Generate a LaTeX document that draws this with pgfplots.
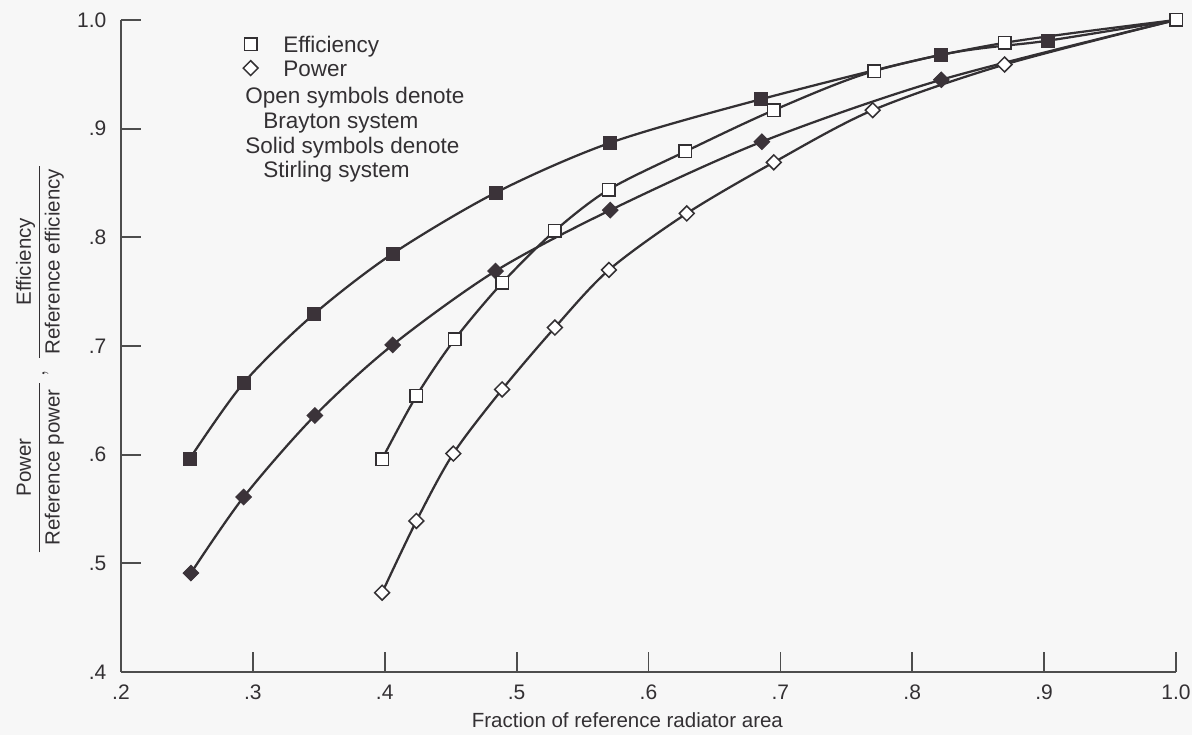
\documentclass[border=0pt]{standalone}
\usepackage{fontspec}
\setmainfont{Liberation Sans}
\usepackage{amsmath}
\usepackage{pgfplots}
\pgfplotsset{compat=1.18}
\definecolor{ink}{HTML}{333033}
\definecolor{solidfill}{HTML}{3B3339}
\definecolor{bg}{HTML}{F7F7F7}
\definecolor{axisgray}{HTML}{4D4D4D}
\begin{document}
\begin{tikzpicture}
\path[use as bounding box, fill=bg] (-48.4pt,-25.2pt) rectangle (428.4pt,268.8pt);
\begin{axis}[
  at={(0pt,0pt)}, anchor=south west,
  scale only axis, width=422pt, height=260.8pt,
  xmin=0.2, xmax=1.0, ymin=0.4, ymax=1.0,
  clip=false,
  axis lines=left,
  axis line style={-, draw=axisgray, line width=0.7pt},
  every outer x axis line/.append style={-},
  every outer y axis line/.append style={-},
  tick align=inside, major tick length=8pt,
  tick style={draw=axisgray, line width=0.7pt},
  xtick={0.2,0.3,0.4,0.5,0.6,0.7,0.8,0.9,1.0},
  xticklabels={.2,.3,.4,.5,.6,.7,.8,.9,1.0},
  ytick={0.4,0.5,0.6,0.7,0.8,0.9,1.0},
  yticklabels={.4,.5,.6,.7,.8,.9,1.0},
  ticklabel style={font=\fontsize{8.4}{10}\selectfont, text=ink},
  yticklabel style={xshift=-2.3pt},
  xticklabel style={yshift=-1.8pt},
  xlabel={Fraction of reference radiator area},
  xlabel style={at={(axis description cs:0.48,-0.0736)}, anchor=center, font=\fontsize{8.2}{9.6}\selectfont, text=ink},
  ylabel={$\dfrac{\text{Power}}{\text{\,\,Reference power\,\,}}\,,\;\dfrac{\text{Efficiency}}{\text{\,Reference efficiency\,}}$},
  ylabel style={at={(axis description cs:-0.0768,0.48)}, anchor=center, font=\fontsize{8.2}{9.6}\selectfont, text=ink},
  legend style={draw=none, fill=none, at={(axis cs:0.2923,0.987)}, anchor=north west,
    inner sep=0pt, font=\fontsize{9}{10}\selectfont, text=ink, row sep=0pt,
    /tikz/every odd column/.append style={column sep=9.6pt},
    nodes={inner sep=0.5pt, text height=6.6pt, text depth=2pt}},
  legend cell align=left,
  legend image code/.code={\draw[#1] plot coordinates {(0pt,1pt)};},
]
\addlegendimage{only marks, mark=square*, mark size=2.5pt, mark options={fill=white, draw=ink, line width=0.6pt}}
\addlegendentry{Efficiency}
\addlegendimage{only marks, mark=square*, mark size=2.1pt, mark options={rotate=45, fill=white, draw=ink, line width=0.6pt}}
\addlegendentry{Power}

% Stirling efficiency (solid squares)
\addplot[ink, line width=0.9pt, smooth, no marks, forget plot] coordinates {
(0.252,0.596) (0.293,0.666) (0.346,0.729) (0.406,0.785) (0.484,0.841)
(0.571,0.887) (0.685,0.927) (0.822,0.968) (0.903,0.981) (1.0,1.0)};
% Stirling power (solid diamonds)
\addplot[ink, line width=0.9pt, smooth, no marks, forget plot] coordinates {
(0.253,0.491) (0.293,0.561) (0.347,0.636) (0.406,0.701) (0.484,0.769)
(0.571,0.825) (0.686,0.888) (0.822,0.945) (1.0,1.0)};
% Brayton efficiency (open squares)
\addplot[ink, line width=0.9pt, smooth, no marks, forget plot] coordinates {
(0.398,0.596) (0.424,0.654) (0.453,0.706) (0.489,0.758) (0.529,0.806)
(0.570,0.844) (0.628,0.879) (0.695,0.917) (0.771,0.953) (0.870,0.979) (1.0,1.0)};
% Brayton power (open diamonds)
\addplot[ink, line width=0.9pt, smooth, no marks, forget plot] coordinates {
(0.398,0.473) (0.424,0.539) (0.452,0.601) (0.489,0.660) (0.529,0.717)
(0.570,0.770) (0.629,0.822) (0.695,0.869) (0.770,0.917) (0.870,0.959) (1.0,1.0)};

\addplot[only marks, mark=square*, mark size=2.6pt, mark options={fill=solidfill, draw=solidfill}, forget plot] coordinates {
(0.252,0.596) (0.293,0.666) (0.346,0.729) (0.406,0.785) (0.484,0.841)
(0.571,0.887) (0.685,0.927) (0.822,0.968) (0.903,0.981)};
\addplot[only marks, mark=square*, mark size=2.2pt, mark options={rotate=45, fill=solidfill, draw=solidfill}, forget plot] coordinates {
(0.253,0.491) (0.293,0.561) (0.347,0.636) (0.406,0.701) (0.484,0.769)
(0.571,0.825) (0.686,0.888) (0.822,0.945)};
\addplot[only marks, mark=square*, mark size=2.5pt, mark options={fill=white, draw=ink, line width=0.6pt}, forget plot] coordinates {
(0.398,0.596) (0.424,0.654) (0.453,0.706) (0.489,0.758) (0.529,0.806)
(0.570,0.844) (0.628,0.879) (0.695,0.917) (0.771,0.953) (0.870,0.979) (1.0,1.0)};
\addplot[only marks, mark=square*, mark size=2.1pt, mark options={rotate=45, fill=white, draw=ink, line width=0.6pt}, forget plot] coordinates {
(0.398,0.473) (0.424,0.539) (0.452,0.601) (0.489,0.660) (0.529,0.717)
(0.570,0.770) (0.629,0.822) (0.695,0.869) (0.770,0.917) (0.870,0.959)};

\node[anchor=base west, inner sep=0pt, font=\fontsize{9}{10}\selectfont, text=ink] at (axis cs:0.294,0.9235) {Open symbols denote};
\node[anchor=base west, inner sep=0pt, font=\fontsize{9}{10}\selectfont, text=ink] at (axis cs:0.3075,0.9005) {Brayton system};
\node[anchor=base west, inner sep=0pt, font=\fontsize{9}{10}\selectfont, text=ink] at (axis cs:0.294,0.8775) {Solid symbols denote};
\node[anchor=base west, inner sep=0pt, font=\fontsize{9}{10}\selectfont, text=ink] at (axis cs:0.3075,0.8555) {Stirling system};
\end{axis}
\end{tikzpicture}
\end{document}
